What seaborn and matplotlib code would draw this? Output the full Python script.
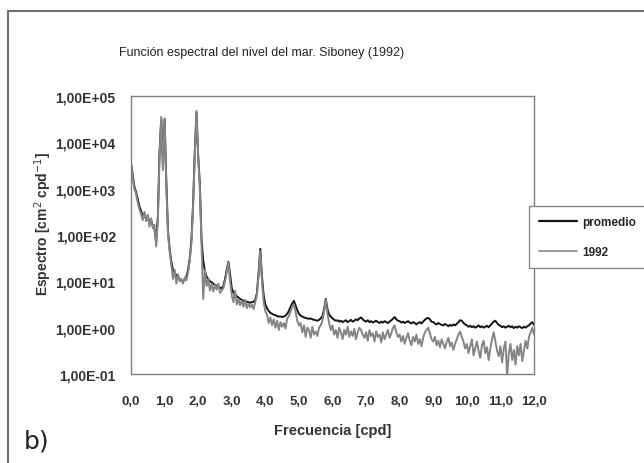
import numpy as np
import pandas as pd
import matplotlib
matplotlib.use("Agg")
import matplotlib.pyplot as plt
import seaborn as sns
from matplotlib.lines import Line2D
from matplotlib.ticker import FixedLocator, FuncFormatter, LogLocator, NullFormatter

# --- data: log10 of the spectrum, every 0.05 cpd ---
freq = np.round(np.arange(0, 12.001, 0.05), 2)

log_promedio = [
    3.55, 3.30, 3.05, 2.92, 2.78, 2.62, 2.52, 2.40, 2.46, 2.34, 2.40, 2.26, 2.32, 2.20, 2.12, 1.85, 2.40, 3.80, 4.50, 3.55,
    4.50, 3.20, 2.10, 1.70, 1.42, 1.25, 1.20, 1.12, 1.10, 1.05, 1.02, 1.00, 1.04, 1.10, 1.25, 1.50, 1.90, 2.70, 3.80, 4.65,
    3.70, 3.10, 1.90, 1.45, 1.22, 1.10, 1.05, 1.00, 0.98, 0.95, 0.92, 0.90, 0.88, 0.86, 0.85, 0.90, 1.05, 1.25, 1.42, 1.15,
    0.85, 0.75, 0.70, 0.68, 0.65, 0.62, 0.60, 0.58, 0.57, 0.56, 0.55, 0.54, 0.55, 0.56, 0.60, 0.75, 1.20, 1.70, 1.10, 0.70,
    0.50, 0.42, 0.36, 0.32, 0.30, 0.28, 0.27, 0.25, 0.24, 0.24, 0.23, 0.24, 0.26, 0.30, 0.36, 0.45, 0.52, 0.58, 0.48, 0.38,
    0.30, 0.26, 0.24, 0.22, 0.21, 0.20, 0.19, 0.20, 0.18, 0.17, 0.16, 0.15, 0.17, 0.20, 0.25, 0.40, 0.62, 0.40, 0.28, 0.24,
    0.20, 0.17, 0.15, 0.16, 0.13, 0.15, 0.12, 0.14, 0.16, 0.12, 0.14, 0.17, 0.13, 0.15, 0.18, 0.16, 0.20, 0.22, 0.18, 0.15,
    0.13, 0.16, 0.12, 0.14, 0.11, 0.13, 0.15, 0.12, 0.10, 0.13, 0.11, 0.14, 0.12, 0.10, 0.13, 0.16, 0.19, 0.23, 0.18, 0.15,
    0.14, 0.11, 0.13, 0.10, 0.12, 0.14, 0.11, 0.09, 0.12, 0.10, 0.07, 0.10, 0.12, 0.09, 0.13, 0.17, 0.20, 0.21, 0.18, 0.13,
    0.12, 0.09, 0.07, 0.10, 0.08, 0.06, 0.05, 0.08, 0.06, 0.03, 0.06, 0.04, 0.07, 0.05, 0.08, 0.12, 0.16, 0.15, 0.10, 0.07,
    0.05, 0.02, 0.04, 0.01, 0.03, 0.00, 0.02, 0.05, 0.01, 0.03, 0.00, 0.02, 0.04, 0.01, 0.05, 0.09, 0.13, 0.15, 0.10, 0.06,
    0.04, 0.01, 0.03, 0.00, 0.02, 0.04, 0.01, 0.03, -0.01, 0.02, 0.00, 0.03, 0.01, -0.01, 0.02, 0.00, 0.03, 0.05, 0.09, 0.12,
    0.06,
]

log_1992 = [
    3.50, 3.25, 3.00, 2.88, 2.70, 2.55, 2.45, 2.32, 2.50, 2.30, 2.44, 2.18, 2.36, 2.15, 2.22, 1.75, 2.35, 3.70, 4.55, 3.40,
    4.52, 3.10, 2.05, 1.65, 1.35, 1.05, 1.25, 0.95, 1.15, 1.00, 1.05, 0.95, 1.08, 1.02, 1.20, 1.45, 1.85, 2.60, 3.75, 4.68,
    3.72, 3.00, 1.80, 0.62, 1.25, 0.90, 1.05, 0.80, 0.95, 0.78, 0.92, 0.82, 0.95, 0.75, 0.80, 0.85, 1.00, 1.20, 1.40, 1.00,
    0.70, 0.55, 0.80, 0.50, 0.62, 0.48, 0.58, 0.45, 0.60, 0.42, 0.52, 0.44, 0.50, 0.40, 0.55, 0.70, 1.15, 1.65, 1.00, 0.55,
    0.35, 0.28, 0.10, 0.22, 0.05, 0.18, 0.00, 0.15, -0.05, 0.12, 0.02, 0.10, -0.02, 0.20, 0.25, 0.35, 0.45, 0.50, 0.35, 0.15,
    0.05, 0.10, -0.10, 0.05, -0.20, 0.00, -0.05, -0.22, 0.02, -0.15, -0.08, -0.18, 0.00, 0.05, 0.15, 0.35, 0.60, 0.30, 0.10, -0.05,
    0.05, -0.15, -0.05, -0.22, 0.00, -0.10, -0.25, -0.05, -0.15, 0.02, -0.20, -0.08, -0.18, -0.02, -0.25, -0.10, 0.00, -0.05, -0.15, -0.22,
    -0.10, -0.28, -0.05, -0.18, -0.12, -0.30, -0.08, -0.20, -0.15, -0.32, -0.10, -0.25, -0.15, -0.05, -0.22, -0.12, 0.00, 0.05, -0.10, -0.20,
    -0.15, -0.30, -0.18, -0.35, -0.22, -0.12, -0.28, -0.38, -0.20, -0.30, -0.15, -0.35, -0.25, -0.40, -0.22, -0.10, -0.05, 0.00, -0.12, -0.25,
    -0.30, -0.20, -0.38, -0.28, -0.42, -0.25, -0.35, -0.45, -0.30, -0.22, -0.40, -0.32, -0.48, -0.35, -0.25, -0.15, -0.08, -0.20, -0.30, -0.45,
    -0.35, -0.55, -0.40, -0.25, -0.60, -0.45, -0.30, -0.50, -0.65, -0.38, -0.28, -0.55, -0.42, -0.70, -0.45, -0.25, -0.10, -0.30, -0.50, -0.62,
    -0.40, -0.75, -0.45, -0.30, -1.05, -0.55, -0.35, -0.70, -0.48, -0.80, -0.40, -0.60, -0.35, -0.72, -0.50, -0.28, -0.45, -0.20, -0.10, 0.00,
    -0.15,
]

df = pd.DataFrame({
    "freq": freq,
    "promedio": 10 ** np.array(log_promedio),
    "1992": 10 ** np.array(log_1992),
})

sns.set_style("white")
plt.rcParams["font.family"] = ["Liberation Sans", "DejaVu Sans"]

fig = plt.figure(figsize=(6.44, 4.64), dpi=100)
ax = fig.add_axes([131 / 644, 1 - 375 / 464, 403 / 644, 278 / 464])

sns.lineplot(data=df, x="freq", y="promedio", color="#141414", lw=1.4, ax=ax, label="promedio", legend=False)
sns.lineplot(data=df, x="freq", y="1992", color="#858585", lw=1.4, ax=ax, label="1992", legend=False)

ax.set_yscale("log")
ax.set_ylim(0.1, 1e5)
ax.set_xlim(0, 12)

ax.xaxis.set_major_locator(FixedLocator(np.arange(0, 13, 1)))
ax.xaxis.set_minor_locator(FixedLocator(np.arange(0.5, 12, 1)))
ax.xaxis.set_major_formatter(FuncFormatter(lambda v, p: f"{v:.1f}".replace(".", ",")))
ax.yaxis.set_major_locator(LogLocator(base=10, numticks=10))
ax.yaxis.set_minor_locator(LogLocator(base=10, subs=np.arange(2, 10), numticks=10))
ax.yaxis.set_minor_formatter(NullFormatter())
ax.yaxis.set_major_formatter(FuncFormatter(
    lambda v, p: f"1,00E{int(round(np.log10(v))):+03d}"))

ax.tick_params(axis="x", which="both", direction="in", length=3, color="#777777", width=0.8,
               labelsize=9.5, pad=15, labelcolor="#333333")
ax.tick_params(axis="y", which="major", direction="in", length=4, color="#777777", width=0.8,
               labelsize=10, pad=11, labelcolor="#333333")
ax.tick_params(axis="y", which="minor", direction="in", length=2.5, color="#777777", width=0.6)
for lbl in ax.get_xticklabels() + ax.get_yticklabels():
    lbl.set_fontweight("bold")

for s in ax.spines.values():
    s.set_color("#808080")
    s.set_linewidth(1.0)

ax.set_xlabel("Frecuencia [cpd]", fontsize=10.5, fontweight="bold", color="#333333", labelpad=12)
ax.set_ylabel("Espectro [cm$^2$ cpd$^{-1}$]", fontsize=10, fontweight="bold", color="#333333")
ax.yaxis.set_label_coords(-0.19, (375 - 224) / 278)

fig.text(262 / 644, 1 - 53 / 464, "Función espectral del nivel del mar. Siboney (1992)",
         ha="center", va="center", fontsize=9, color="#222222")

fig.legend(handles=[Line2D([], [], color="#141414", lw=1.6), Line2D([], [], color="#9a9a9a", lw=1.4)],
           labels=["promedio", "1992"], loc="upper left",
           bbox_to_anchor=(529 / 644, 1 - 207 / 464, 0.4, 0.0), mode="expand",
           prop={"weight": "bold", "size": 8.5}, frameon=True, fancybox=False,
           edgecolor="#8a8a8a", framealpha=1, handlelength=3.2, handletextpad=0.45,
           labelspacing=1.55, borderpad=0.85, borderaxespad=0)

# outer frame of the figure panel
fig.add_artist(Line2D([8 / 644, 8 / 644], [0, 1 - 12 / 464], color="#707070", lw=1.5))
fig.add_artist(Line2D([8 / 644, 1], [1 - 12 / 464, 1 - 12 / 464], color="#707070", lw=1.5))

fig.text(24 / 644, 1 - 441 / 464, "b)", family=["Liberation Sans Narrow", "DejaVu Sans"],
         fontsize=18, ha="left", va="center", color="#222222")

plt.savefig("out.png", dpi=100)
